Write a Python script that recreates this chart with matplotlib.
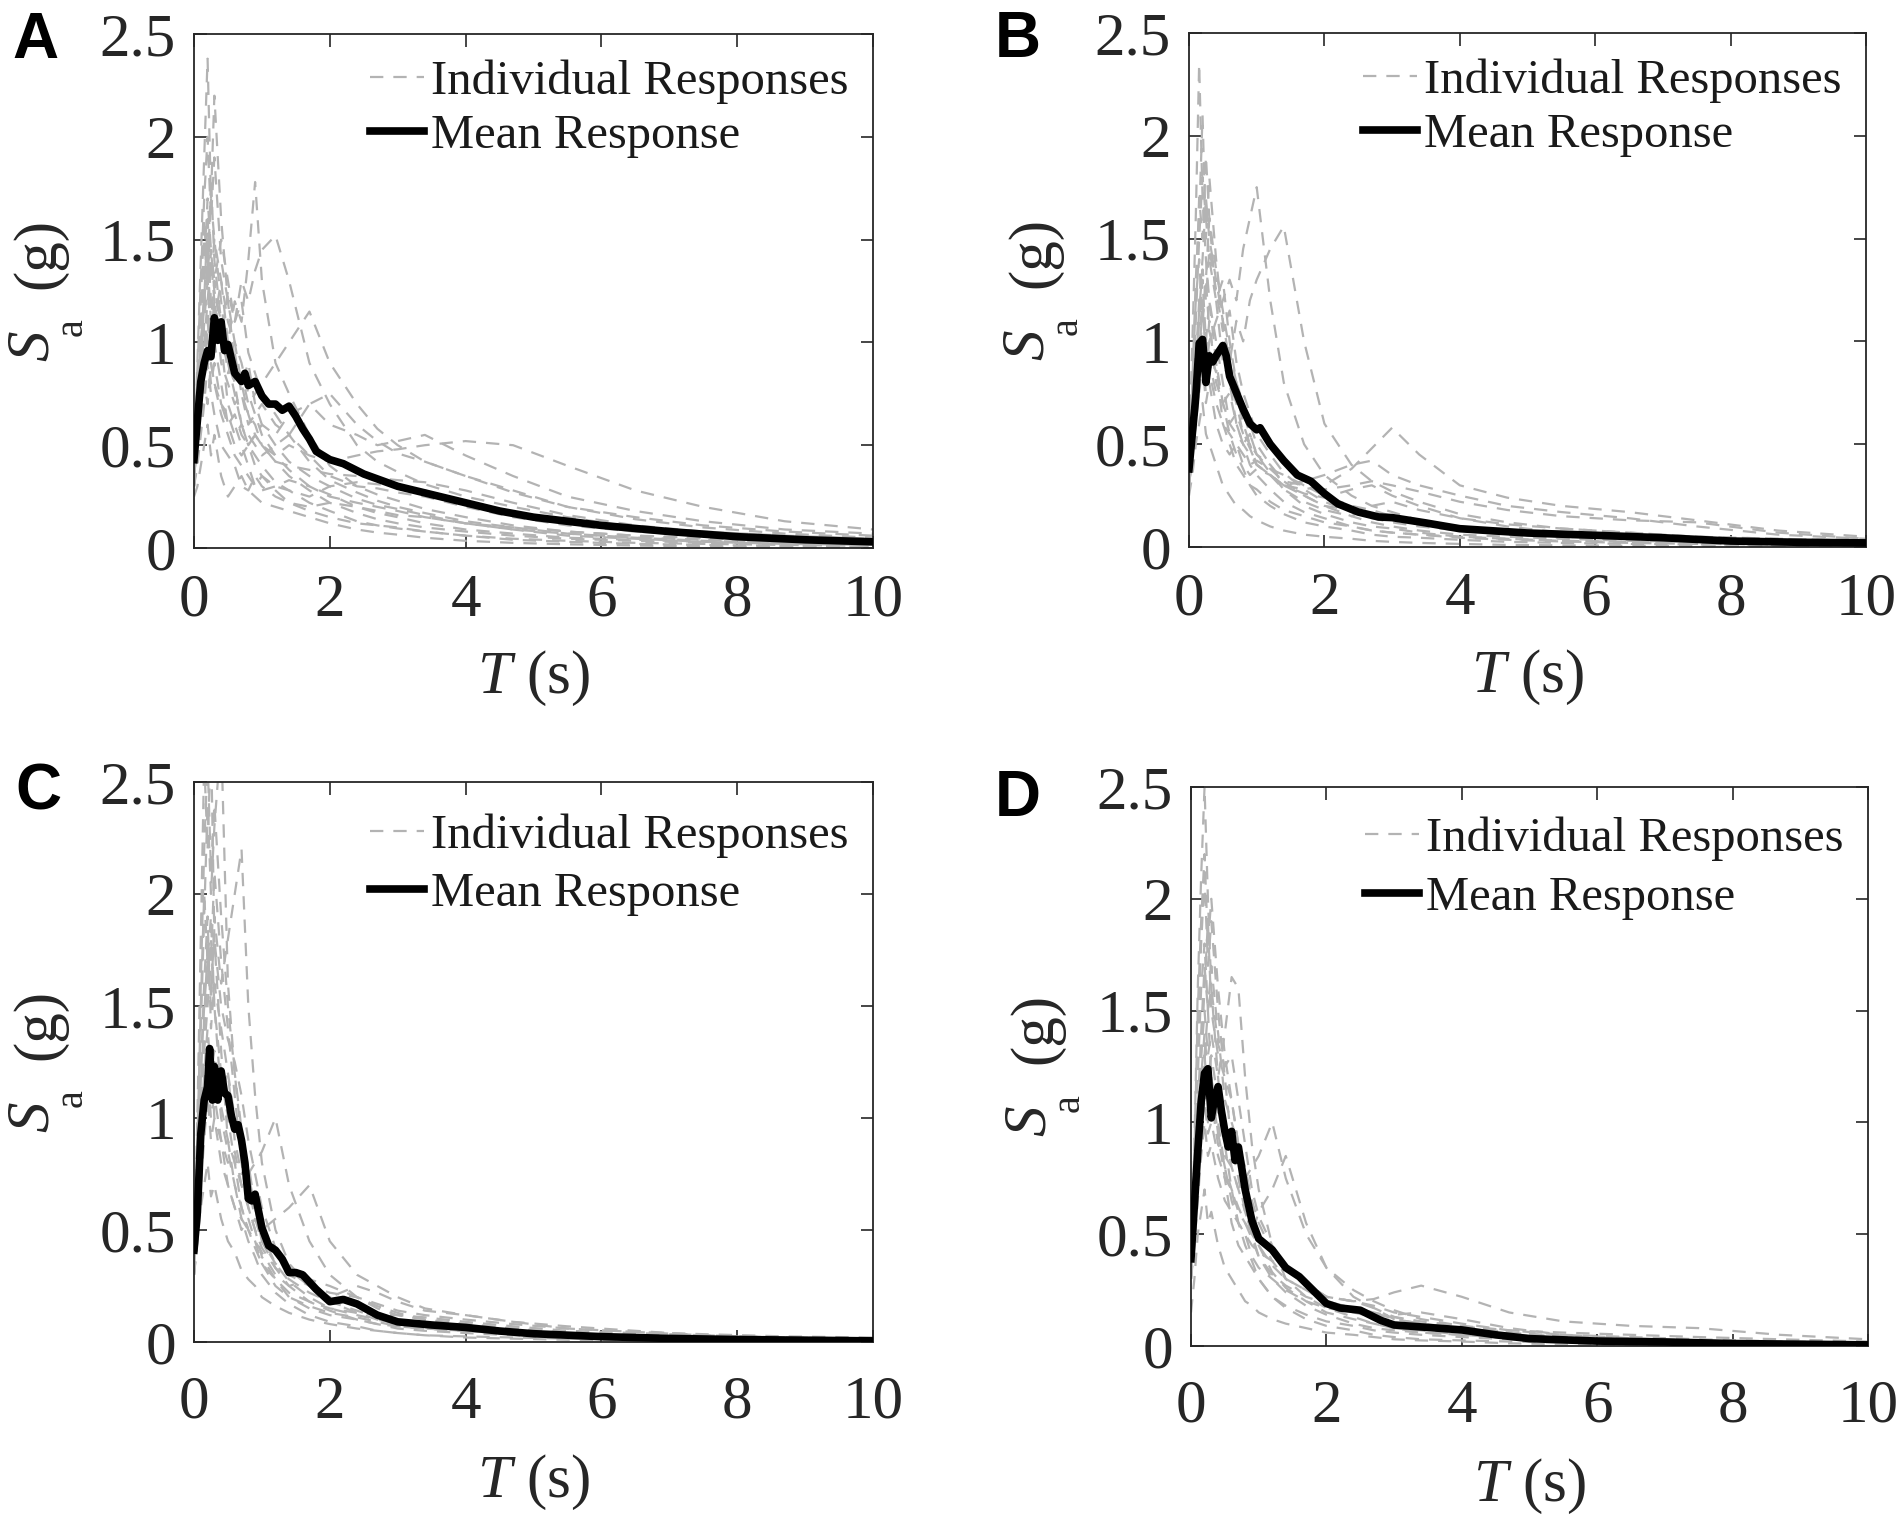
import numpy as np
import matplotlib
matplotlib.use("Agg")
import matplotlib.pyplot as plt
from matplotlib.transforms import ScaledTranslation

plt.rcParams['font.family'] = ['Liberation Serif', 'DejaVu Serif']
plt.rcParams['mathtext.fontset'] = 'custom'
plt.rcParams['mathtext.rm'] = 'Liberation Serif'
plt.rcParams['mathtext.it'] = 'Liberation Serif:italic'

# ---------------- data ----------------
# common period grid for individual responses (s)
T_ind = [0, 0.05, 0.1, 0.15, 0.2, 0.25, 0.3, 0.4, 0.5, 0.6, 0.7, 0.8, 0.9, 1.0,
         1.2, 1.4, 1.7, 2.0, 2.4, 2.7, 3.0, 3.4, 4.0, 4.7, 5.5, 6.5, 7.5, 8.7, 10.0]

ind_A = [
    [0.45, 0.9, 1.4, 1.9, 2.38, 1.7, 1.5, 1.2, 0.9, 0.75, 0.6, 0.5, 0.45, 0.4, 0.32, 0.28, 0.22, 0.18, 0.13, 0.11, 0.095, 0.08, 0.06, 0.045, 0.035, 0.025, 0.02, 0.015, 0.01],
    [0.4, 0.7, 1.1, 1.5, 1.3, 1.7, 2.2, 1.6, 1.2, 0.9, 0.8, 0.65, 0.55, 0.5, 0.42, 0.35, 0.28, 0.22, 0.17, 0.14, 0.12, 0.1, 0.08, 0.06, 0.045, 0.035, 0.025, 0.02, 0.015],
    [0.35, 0.5, 0.8, 1.1, 1.0, 1.2, 1.1, 1.3, 1.0, 1.2, 1.1, 1.4, 1.78, 1.3, 0.9, 0.75, 0.55, 0.4, 0.3, 0.26, 0.23, 0.19, 0.15, 0.11, 0.08, 0.06, 0.045, 0.035, 0.03],
    [0.3, 0.45, 0.7, 0.9, 1.1, 0.95, 1.2, 1.0, 1.25, 1.1, 1.3, 1.2, 1.35, 1.45, 1.52, 1.3, 0.9, 0.7, 0.5, 0.42, 0.37, 0.31, 0.25, 0.2, 0.15, 0.1, 0.08, 0.06, 0.05],
    [0.4, 0.6, 0.9, 1.2, 1.4, 1.1, 1.3, 1.0, 0.9, 0.8, 0.85, 0.7, 0.75, 0.8, 0.9, 1.0, 1.15, 0.9, 0.7, 0.58, 0.5, 0.42, 0.35, 0.27, 0.2, 0.14, 0.1, 0.07, 0.05],
    [0.3, 0.45, 0.6, 0.8, 0.7, 0.9, 0.8, 0.7, 0.6, 0.65, 0.55, 0.5, 0.55, 0.5, 0.45, 0.5, 0.45, 0.42, 0.45, 0.47, 0.48, 0.5, 0.52, 0.5, 0.4, 0.28, 0.2, 0.13, 0.09],
    [0.35, 0.55, 0.8, 1.1, 1.3, 1.0, 1.2, 0.9, 0.8, 0.7, 0.75, 0.6, 0.65, 0.7, 0.6, 0.55, 0.7, 0.6, 0.55, 0.5, 0.52, 0.55, 0.45, 0.35, 0.25, 0.18, 0.13, 0.09, 0.07],
    [0.25, 0.3, 0.4, 0.5, 0.6, 0.45, 0.55, 0.35, 0.25, 0.3, 0.35, 0.28, 0.25, 0.22, 0.2, 0.18, 0.15, 0.12, 0.09, 0.075, 0.065, 0.05, 0.035, 0.025, 0.018, 0.012, 0.008, 0.005, 0.004],
    [0.5, 0.8, 1.2, 1.6, 1.3, 1.8, 1.4, 1.1, 0.95, 0.8, 0.6, 0.55, 0.5, 0.45, 0.5, 0.55, 0.45, 0.35, 0.3, 0.29, 0.27, 0.25, 0.2, 0.15, 0.11, 0.08, 0.06, 0.04, 0.03],
    [0.4, 0.6, 0.9, 1.3, 1.5, 1.2, 1.0, 0.8, 0.6, 0.5, 0.45, 0.5, 0.4, 0.35, 0.3, 0.28, 0.25, 0.3, 0.32, 0.31, 0.3, 0.28, 0.22, 0.17, 0.12, 0.08, 0.06, 0.04, 0.03],
    [0.35, 0.5, 0.7, 0.9, 1.0, 0.8, 0.9, 0.7, 0.65, 0.55, 0.6, 0.5, 0.55, 0.6, 0.55, 0.65, 0.7, 0.75, 0.6, 0.52, 0.46, 0.42, 0.35, 0.28, 0.2, 0.15, 0.11, 0.08, 0.06],
    [0.3, 0.5, 0.75, 1.0, 1.2, 1.4, 1.2, 1.0, 0.7, 0.6, 0.5, 0.4, 0.3, 0.35, 0.28, 0.22, 0.18, 0.15, 0.12, 0.11, 0.1, 0.08, 0.06, 0.04, 0.03, 0.02, 0.015, 0.01, 0.008],
    [0.45, 0.7, 1.0, 1.2, 1.6, 1.3, 1.5, 1.3, 1.1, 1.0, 0.8, 0.9, 0.7, 0.6, 0.5, 0.42, 0.35, 0.3, 0.24, 0.21, 0.19, 0.16, 0.12, 0.09, 0.07, 0.05, 0.04, 0.03, 0.02],
    [0.3, 0.4, 0.55, 0.7, 0.9, 0.75, 0.65, 0.5, 0.45, 0.4, 0.3, 0.28, 0.35, 0.3, 0.25, 0.22, 0.2, 0.22, 0.2, 0.18, 0.16, 0.15, 0.12, 0.1, 0.08, 0.06, 0.05, 0.04, 0.035],
    [0.5, 0.85, 1.3, 1.7, 2.0, 1.6, 1.9, 1.4, 1.2, 1.0, 0.9, 0.75, 0.65, 0.55, 0.45, 0.38, 0.3, 0.26, 0.2, 0.17, 0.15, 0.12, 0.09, 0.07, 0.05, 0.04, 0.03, 0.02, 0.015],
    [0.35, 0.6, 0.95, 1.25, 1.1, 1.45, 1.3, 1.5, 1.3, 1.1, 1.2, 0.95, 0.85, 0.75, 0.65, 0.55, 0.42, 0.33, 0.27, 0.23, 0.2, 0.17, 0.13, 0.1, 0.07, 0.05, 0.035, 0.025, 0.02],
    [0.3, 0.45, 0.65, 0.85, 1.05, 0.9, 0.8, 0.65, 0.55, 0.45, 0.4, 0.35, 0.3, 0.28, 0.3, 0.33, 0.3, 0.25, 0.22, 0.2, 0.18, 0.15, 0.12, 0.09, 0.06, 0.045, 0.03, 0.02, 0.015],
    [0.4, 0.65, 1.0, 1.35, 1.7, 1.45, 1.25, 1.1, 0.85, 0.95, 0.75, 0.65, 0.6, 0.5, 0.42, 0.4, 0.38, 0.36, 0.35, 0.34, 0.33, 0.32, 0.28, 0.22, 0.16, 0.11, 0.08, 0.06, 0.045],
]

ind_B = [
    [0.45, 1.0, 1.6, 2.35, 1.7, 1.4, 1.2, 0.9, 0.7, 0.55, 0.45, 0.38, 0.3, 0.25, 0.2, 0.16, 0.12, 0.1, 0.08, 0.06, 0.05, 0.045, 0.035, 0.025, 0.02, 0.015, 0.012, 0.01, 0.008],
    [0.4, 0.8, 1.3, 1.6, 2.1, 1.5, 1.8, 1.4, 1.1, 0.8, 0.6, 0.5, 0.4, 0.35, 0.28, 0.22, 0.17, 0.14, 0.1, 0.08, 0.07, 0.06, 0.045, 0.035, 0.027, 0.02, 0.015, 0.012, 0.01],
    [0.35, 0.5, 0.7, 0.9, 1.0, 0.85, 1.0, 1.1, 1.2, 1.3, 1.2, 1.45, 1.6, 1.75, 1.2, 0.8, 0.5, 0.35, 0.25, 0.2, 0.17, 0.13, 0.1, 0.07, 0.05, 0.04, 0.03, 0.02, 0.015],
    [0.3, 0.45, 0.6, 0.8, 0.9, 0.8, 0.95, 0.85, 1.0, 0.9, 1.1, 1.0, 1.2, 1.3, 1.45, 1.56, 1.0, 0.6, 0.4, 0.32, 0.27, 0.22, 0.16, 0.12, 0.09, 0.07, 0.05, 0.04, 0.03],
    [0.3, 0.45, 0.6, 0.75, 0.9, 0.7, 0.8, 0.6, 0.5, 0.45, 0.5, 0.4, 0.35, 0.38, 0.35, 0.3, 0.28, 0.3, 0.38, 0.48, 0.58, 0.45, 0.3, 0.24, 0.2, 0.17, 0.13, 0.08, 0.05],
    [0.35, 0.55, 0.8, 1.1, 1.3, 1.0, 1.2, 1.0, 0.8, 0.6, 0.55, 0.5, 0.45, 0.4, 0.35, 0.3, 0.32, 0.35, 0.4, 0.42, 0.35, 0.3, 0.25, 0.2, 0.17, 0.14, 0.1, 0.06, 0.04],
    [0.25, 0.35, 0.5, 0.6, 0.7, 0.55, 0.5, 0.4, 0.3, 0.25, 0.2, 0.18, 0.15, 0.13, 0.1, 0.08, 0.06, 0.05, 0.04, 0.03, 0.025, 0.02, 0.015, 0.01, 0.008, 0.006, 0.005, 0.004, 0.003],
    [0.4, 0.7, 1.1, 1.5, 1.8, 1.6, 1.4, 1.2, 1.3, 1.0, 0.8, 0.7, 0.6, 0.5, 0.4, 0.3, 0.25, 0.2, 0.15, 0.12, 0.1, 0.08, 0.06, 0.05, 0.04, 0.03, 0.025, 0.02, 0.015],
    [0.35, 0.6, 0.9, 1.2, 1.4, 1.7, 1.5, 1.3, 1.1, 0.9, 0.75, 0.6, 0.5, 0.45, 0.38, 0.32, 0.3, 0.25, 0.2, 0.18, 0.15, 0.12, 0.09, 0.07, 0.05, 0.04, 0.03, 0.025, 0.02],
    [0.3, 0.45, 0.65, 0.8, 0.9, 0.75, 0.85, 0.7, 0.6, 0.55, 0.5, 0.45, 0.4, 0.42, 0.38, 0.35, 0.3, 0.28, 0.3, 0.32, 0.3, 0.27, 0.22, 0.18, 0.15, 0.13, 0.12, 0.07, 0.04],
    [0.4, 0.6, 0.85, 1.0, 1.2, 0.9, 1.1, 0.8, 0.7, 0.75, 0.6, 0.5, 0.55, 0.45, 0.4, 0.32, 0.25, 0.2, 0.18, 0.16, 0.14, 0.12, 0.1, 0.08, 0.06, 0.05, 0.04, 0.03, 0.02],
    [0.3, 0.5, 0.7, 0.95, 1.1, 1.3, 1.05, 0.9, 0.6, 0.5, 0.4, 0.35, 0.3, 0.28, 0.22, 0.18, 0.15, 0.12, 0.1, 0.08, 0.07, 0.06, 0.05, 0.04, 0.03, 0.025, 0.02, 0.015, 0.01],
    [0.45, 0.8, 1.2, 1.4, 1.1, 1.3, 1.6, 1.2, 0.9, 0.8, 0.7, 0.55, 0.5, 0.4, 0.35, 0.28, 0.22, 0.18, 0.15, 0.2, 0.22, 0.18, 0.14, 0.11, 0.09, 0.07, 0.05, 0.04, 0.03],
    [0.4, 0.75, 1.2, 1.7, 1.5, 1.9, 1.6, 1.35, 1.15, 0.95, 0.8, 0.65, 0.55, 0.45, 0.36, 0.28, 0.2, 0.16, 0.12, 0.1, 0.09, 0.07, 0.05, 0.04, 0.03, 0.025, 0.02, 0.015, 0.01],
    [0.3, 0.55, 0.85, 1.15, 1.35, 1.2, 1.45, 1.25, 1.05, 1.15, 0.9, 0.75, 0.65, 0.55, 0.45, 0.36, 0.28, 0.22, 0.17, 0.14, 0.12, 0.1, 0.08, 0.06, 0.045, 0.035, 0.03, 0.025, 0.02],
    [0.35, 0.5, 0.7, 0.95, 1.15, 1.0, 0.9, 0.75, 0.7, 0.6, 0.65, 0.55, 0.48, 0.4, 0.35, 0.3, 0.26, 0.24, 0.28, 0.3, 0.25, 0.2, 0.14, 0.1, 0.07, 0.05, 0.04, 0.03, 0.02],
]

ind_C = [
    [0.4, 1.0, 1.8, 2.6, 2.2, 2.7, 1.8, 1.3, 0.9, 0.7, 0.55, 0.45, 0.38, 0.3, 0.22, 0.17, 0.12, 0.09, 0.07, 0.05, 0.04, 0.03, 0.025, 0.02, 0.015, 0.01, 0.008, 0.006, 0.004],
    [0.35, 0.8, 1.4, 1.9, 2.4, 2.0, 2.3, 2.7, 1.6, 1.2, 0.9, 0.7, 0.55, 0.45, 0.33, 0.25, 0.18, 0.14, 0.1, 0.08, 0.06, 0.05, 0.04, 0.03, 0.02, 0.015, 0.01, 0.008, 0.006],
    [0.4, 0.7, 1.2, 1.5, 1.7, 1.5, 1.9, 1.6, 1.8, 2.0, 2.2, 1.5, 1.1, 0.8, 0.5, 0.35, 0.25, 0.18, 0.13, 0.1, 0.08, 0.06, 0.05, 0.04, 0.03, 0.02, 0.015, 0.01, 0.008],
    [0.3, 0.5, 0.8, 1.0, 1.2, 1.0, 1.1, 0.9, 0.8, 0.85, 0.7, 0.75, 0.8, 0.85, 1.0, 0.7, 0.45, 0.3, 0.2, 0.15, 0.12, 0.1, 0.08, 0.06, 0.04, 0.03, 0.02, 0.015, 0.01],
    [0.3, 0.45, 0.7, 0.9, 1.1, 0.9, 1.0, 0.8, 0.7, 0.6, 0.55, 0.5, 0.55, 0.5, 0.55, 0.6, 0.7, 0.45, 0.3, 0.25, 0.2, 0.15, 0.12, 0.09, 0.07, 0.05, 0.03, 0.02, 0.015],
    [0.45, 0.9, 1.5, 2.0, 1.7, 1.9, 1.5, 1.2, 1.0, 0.8, 0.6, 0.5, 0.42, 0.35, 0.28, 0.22, 0.18, 0.15, 0.13, 0.12, 0.12, 0.11, 0.09, 0.07, 0.05, 0.04, 0.03, 0.02, 0.015],
    [0.3, 0.45, 0.6, 0.7, 0.8, 0.65, 0.7, 0.55, 0.45, 0.4, 0.32, 0.28, 0.25, 0.2, 0.16, 0.13, 0.1, 0.08, 0.06, 0.05, 0.04, 0.03, 0.02, 0.015, 0.01, 0.008, 0.006, 0.005, 0.004],
    [0.4, 0.8, 1.2, 1.6, 1.9, 1.4, 1.6, 1.4, 1.2, 1.0, 0.9, 0.7, 0.6, 0.45, 0.35, 0.3, 0.25, 0.22, 0.2, 0.17, 0.14, 0.12, 0.1, 0.08, 0.06, 0.045, 0.035, 0.025, 0.02],
    [0.35, 0.7, 1.1, 1.4, 1.6, 1.8, 1.5, 1.1, 1.2, 0.9, 0.75, 0.8, 0.6, 0.5, 0.4, 0.32, 0.25, 0.2, 0.25, 0.22, 0.18, 0.14, 0.12, 0.09, 0.06, 0.045, 0.03, 0.02, 0.015],
    [0.4, 0.6, 0.9, 1.2, 1.4, 1.2, 1.3, 1.0, 0.85, 0.7, 0.6, 0.5, 0.45, 0.4, 0.3, 0.25, 0.28, 0.25, 0.2, 0.16, 0.13, 0.1, 0.08, 0.06, 0.04, 0.03, 0.02, 0.015, 0.01],
    [0.35, 0.6, 1.0, 1.3, 1.5, 1.7, 2.1, 1.7, 1.4, 1.1, 0.8, 0.6, 0.5, 0.38, 0.28, 0.2, 0.15, 0.12, 0.1, 0.08, 0.07, 0.06, 0.05, 0.04, 0.03, 0.02, 0.015, 0.01, 0.008],
    [0.3, 0.5, 0.75, 0.95, 1.1, 1.3, 1.0, 0.9, 0.7, 0.6, 0.5, 0.55, 0.45, 0.35, 0.25, 0.2, 0.16, 0.13, 0.11, 0.09, 0.07, 0.06, 0.05, 0.035, 0.025, 0.018, 0.012, 0.008, 0.005],
    [0.4, 0.9, 1.6, 2.2, 2.6, 2.1, 2.4, 1.9, 1.5, 1.2, 0.95, 0.75, 0.6, 0.48, 0.35, 0.27, 0.2, 0.15, 0.12, 0.1, 0.08, 0.065, 0.05, 0.035, 0.025, 0.018, 0.012, 0.008, 0.005],
    [0.35, 0.65, 1.05, 1.45, 1.75, 1.55, 1.8, 1.5, 1.35, 1.25, 1.1, 0.9, 0.75, 0.6, 0.42, 0.33, 0.26, 0.2, 0.16, 0.13, 0.1, 0.08, 0.06, 0.045, 0.03, 0.02, 0.015, 0.01, 0.007],
    [0.3, 0.55, 0.85, 1.15, 1.3, 1.15, 1.25, 1.05, 0.9, 0.8, 0.7, 0.6, 0.5, 0.42, 0.33, 0.28, 0.22, 0.18, 0.14, 0.11, 0.09, 0.07, 0.055, 0.04, 0.03, 0.02, 0.015, 0.01, 0.008],
]

ind_D = [
    [0.35, 0.9, 1.6, 2.1, 2.5, 2.0, 1.6, 1.2, 0.9, 0.7, 0.55, 0.45, 0.38, 0.3, 0.22, 0.17, 0.12, 0.09, 0.07, 0.05, 0.04, 0.03, 0.025, 0.02, 0.015, 0.01, 0.008, 0.006, 0.004],
    [0.4, 0.8, 1.4, 1.8, 2.1, 1.7, 1.9, 1.5, 1.2, 0.9, 0.75, 0.6, 0.5, 0.4, 0.3, 0.24, 0.18, 0.14, 0.1, 0.08, 0.07, 0.06, 0.05, 0.04, 0.03, 0.02, 0.015, 0.01, 0.008],
    [0.35, 0.6, 1.0, 1.3, 1.5, 1.3, 1.4, 1.2, 1.4, 1.65, 1.6, 1.2, 0.9, 0.7, 0.45, 0.3, 0.22, 0.17, 0.13, 0.1, 0.08, 0.06, 0.05, 0.035, 0.025, 0.02, 0.015, 0.01, 0.007],
    [0.3, 0.5, 0.8, 1.0, 1.2, 1.0, 1.1, 0.9, 0.85, 0.8, 0.7, 0.75, 0.8, 0.85, 1.0, 0.75, 0.5, 0.35, 0.22, 0.17, 0.13, 0.1, 0.08, 0.06, 0.045, 0.03, 0.02, 0.015, 0.01],
    [0.3, 0.45, 0.65, 0.85, 1.0, 0.85, 0.9, 0.75, 0.65, 0.6, 0.55, 0.5, 0.45, 0.42, 0.38, 0.35, 0.28, 0.22, 0.2, 0.21, 0.24, 0.27, 0.22, 0.15, 0.11, 0.09, 0.08, 0.05, 0.03],
    [0.35, 0.55, 0.8, 1.1, 1.3, 1.1, 1.2, 1.0, 0.8, 0.65, 0.55, 0.5, 0.4, 0.35, 0.3, 0.25, 0.2, 0.17, 0.15, 0.13, 0.14, 0.15, 0.12, 0.08, 0.05, 0.04, 0.03, 0.02, 0.015],
    [0.15, 0.3, 0.5, 0.6, 0.7, 0.55, 0.6, 0.45, 0.35, 0.3, 0.25, 0.2, 0.18, 0.15, 0.12, 0.1, 0.08, 0.06, 0.05, 0.04, 0.03, 0.025, 0.02, 0.012, 0.008, 0.006, 0.004, 0.003, 0.002],
    [0.4, 0.7, 1.2, 1.6, 1.8, 1.5, 1.7, 1.4, 1.1, 1.0, 0.9, 0.7, 0.6, 0.5, 0.38, 0.3, 0.25, 0.2, 0.16, 0.13, 0.1, 0.08, 0.06, 0.045, 0.03, 0.02, 0.015, 0.01, 0.008],
    [0.35, 0.6, 1.0, 1.3, 1.6, 1.9, 1.5, 1.3, 1.2, 1.1, 0.9, 0.8, 0.65, 0.55, 0.42, 0.35, 0.28, 0.22, 0.2, 0.17, 0.12, 0.1, 0.08, 0.05, 0.035, 0.025, 0.018, 0.012, 0.008],
    [0.4, 0.65, 0.95, 1.2, 1.4, 1.2, 1.3, 1.1, 0.95, 0.8, 0.7, 0.6, 0.5, 0.45, 0.36, 0.3, 0.25, 0.2, 0.17, 0.15, 0.12, 0.1, 0.07, 0.05, 0.035, 0.025, 0.02, 0.015, 0.01],
    [0.3, 0.5, 0.75, 0.95, 1.1, 0.95, 1.0, 0.85, 0.75, 0.7, 0.6, 0.55, 0.5, 0.6, 0.7, 0.85, 0.55, 0.35, 0.25, 0.2, 0.16, 0.12, 0.09, 0.06, 0.04, 0.03, 0.02, 0.015, 0.01],
    [0.35, 0.6, 0.9, 1.1, 1.3, 1.5, 1.2, 0.95, 0.75, 0.55, 0.45, 0.4, 0.35, 0.3, 0.22, 0.18, 0.14, 0.11, 0.09, 0.07, 0.06, 0.05, 0.04, 0.03, 0.02, 0.015, 0.01, 0.008, 0.005],
    [0.4, 0.85, 1.5, 1.9, 2.2, 1.8, 2.0, 1.6, 1.3, 1.1, 0.9, 0.7, 0.55, 0.45, 0.33, 0.26, 0.2, 0.15, 0.12, 0.1, 0.08, 0.07, 0.05, 0.035, 0.025, 0.018, 0.012, 0.008, 0.005],
    [0.35, 0.65, 1.05, 1.4, 1.7, 1.5, 1.6, 1.35, 1.25, 1.3, 1.1, 0.9, 0.7, 0.58, 0.45, 0.35, 0.28, 0.22, 0.2, 0.18, 0.15, 0.13, 0.1, 0.07, 0.05, 0.035, 0.025, 0.018, 0.012],
    [0.3, 0.5, 0.8, 1.05, 1.25, 1.1, 1.15, 0.95, 0.8, 0.7, 0.62, 0.55, 0.48, 0.4, 0.32, 0.27, 0.22, 0.19, 0.17, 0.15, 0.13, 0.11, 0.09, 0.07, 0.06, 0.05, 0.04, 0.03, 0.02],
]

# mean responses
T_mean_A = [0, 0.1, 0.15, 0.2, 0.25, 0.3, 0.35, 0.4, 0.45, 0.5, 0.55, 0.6, 0.7, 0.75, 0.8, 0.9, 1.0, 1.1, 1.2, 1.3, 1.4, 1.5, 1.6, 1.7, 1.8, 1.9, 2.0, 2.2, 2.5, 3.0, 3.5, 4.0, 4.5, 5.0, 5.5, 6.0, 7.0, 8.0, 9.0, 10.0]
Sa_mean_A = [0.43, 0.81, 0.90, 0.96, 0.93, 1.12, 1.01, 1.10, 0.96, 0.99, 0.92, 0.85, 0.81, 0.85, 0.79, 0.81, 0.74, 0.70, 0.70, 0.67, 0.69, 0.64, 0.58, 0.53, 0.47, 0.45, 0.43, 0.41, 0.36, 0.30, 0.26, 0.22, 0.18, 0.15, 0.13, 0.11, 0.08, 0.055, 0.04, 0.03]

T_mean_B = [0, 0.1, 0.15, 0.2, 0.25, 0.3, 0.35, 0.4, 0.5, 0.55, 0.6, 0.7, 0.8, 0.9, 1.0, 1.05, 1.2, 1.4, 1.6, 1.8, 2.0, 2.2, 2.5, 2.8, 3.0, 3.5, 4.0, 5.0, 6.0, 7.0, 8.0, 9.0, 10.0]
Sa_mean_B = [0.38, 0.73, 0.99, 1.01, 0.80, 0.93, 0.90, 0.93, 0.98, 0.93, 0.83, 0.75, 0.67, 0.60, 0.57, 0.58, 0.50, 0.42, 0.35, 0.32, 0.26, 0.21, 0.17, 0.146, 0.143, 0.117, 0.089, 0.068, 0.057, 0.045, 0.029, 0.023, 0.02]

T_mean_C = [0, 0.05, 0.1, 0.15, 0.2, 0.23, 0.27, 0.3, 0.35, 0.4, 0.45, 0.5, 0.55, 0.6, 0.65, 0.7, 0.75, 0.8, 0.85, 0.9, 1.0, 1.1, 1.2, 1.3, 1.4, 1.5, 1.6, 1.8, 2.0, 2.2, 2.4, 2.7, 3.0, 3.5, 4.0, 4.5, 5.0, 6.0, 7.0, 8.0, 10.0]
Sa_mean_C = [0.41, 0.58, 0.93, 1.08, 1.14, 1.31, 1.08, 1.23, 1.08, 1.21, 1.11, 1.10, 1.01, 0.95, 0.97, 0.90, 0.80, 0.64, 0.63, 0.66, 0.51, 0.43, 0.41, 0.37, 0.31, 0.31, 0.30, 0.235, 0.18, 0.19, 0.17, 0.12, 0.09, 0.076, 0.065, 0.049, 0.037, 0.024, 0.016, 0.011, 0.005]

T_mean_D = [0, 0.1, 0.15, 0.2, 0.25, 0.3, 0.35, 0.4, 0.45, 0.5, 0.55, 0.6, 0.65, 0.7, 0.8, 0.9, 1.0, 1.1, 1.2, 1.4, 1.6, 1.8, 2.0, 2.2, 2.5, 2.8, 3.0, 3.5, 4.0, 4.5, 5.0, 6.0, 7.0, 8.0, 10.0]
Sa_mean_D = [0.39, 0.87, 1.09, 1.22, 1.24, 1.02, 1.11, 1.16, 1.05, 0.96, 0.89, 0.96, 0.83, 0.89, 0.70, 0.56, 0.48, 0.455, 0.43, 0.35, 0.31, 0.25, 0.19, 0.17, 0.16, 0.115, 0.094, 0.083, 0.072, 0.05, 0.033, 0.022, 0.018, 0.011, 0.005]

panel_letters = ['A', 'B', 'C', 'D']
x_ticks = [0, 2, 4, 6, 8, 10]
y_ticks = [0, 0.5, 1, 1.5, 2, 2.5]
y_tick_labels = ['0', '0.5', '1', '1.5', '2', '2.5']
legend_labels = ['Individual Responses', 'Mean Response']

# ---------------- figure ----------------
W, H = 1901, 1526
fig = plt.figure(figsize=(W / 100, H / 100), dpi=100)

# axes boxes in pixels: left, top, right, bottom
boxes = [(194, 34, 873, 548), (1189, 33, 1866, 547),
         (194, 782, 873, 1342), (1191, 787, 1868, 1346)]
letter_px = [(12, 11), (995, 10), (15, 763), (995, 769)]
xlabel_off = [145, 145, 155, 155]
xtick_pad = [18, 18, 24, 24]
leg_spacing = [0.2, 0.2, 0.3, 0.3]
leg_top = [0.998, 0.998, 0.988, 0.99]

panels = [
    (ind_A, T_mean_A, Sa_mean_A),
    (ind_B, T_mean_B, Sa_mean_B),
    (ind_C, T_mean_C, Sa_mean_C),
    (ind_D, T_mean_D, Sa_mean_D),
]

ink = '#262626'
gray = '#b3b3b3'
for k, (ind, tm, sm) in enumerate(panels):
    l, t, r, b = boxes[k]
    ax = fig.add_axes([l / W, 1 - b / H, (r - l) / W, (b - t) / H])
    for j, curve in enumerate(ind):
        ax.plot(T_ind, curve, color=gray, lw=1.6, dashes=(6, 4.5),
                label=legend_labels[0] if j == 0 else None, zorder=2)
    ax.plot(tm, sm, color='black', lw=5.5, label=legend_labels[1], zorder=3,
            solid_joinstyle='round')
    ax.set_xlim(0, 10)
    ax.set_ylim(0, 2.5)
    ax.set_xticks(x_ticks)
    ax.set_yticks(y_ticks)
    ax.set_yticklabels(y_tick_labels)
    ax.tick_params(direction='in', length=9, width=1.2, top=True, right=True,
                   labelsize=44, colors=ink, labelcolor=ink)
    ax.tick_params(axis='x', pad=xtick_pad[k])
    ax.tick_params(axis='y', pad=13)
    for s in ax.spines.values():
        s.set_linewidth(1.3)
        s.set_color(ink)

    # x label: baseline a fixed distance below the axes
    ax.text(0.5, 0, r'$T$ (s)', fontsize=44, color=ink, ha='center', va='baseline',
            transform=ax.transAxes + ScaledTranslation(0, -xlabel_off[k] / 100, fig.dpi_scale_trans))

    # y label: italic S, low subscript a, then (g), rotated
    def ylab(s, dx, dy, size, style='normal'):
        ax.text(0, 0.5, s, fontsize=size, color=ink, rotation=90, rotation_mode='anchor',
                ha='left', va='baseline', fontstyle=style,
                transform=ax.transAxes + ScaledTranslation(dx / 100, -dy / 100, fig.dpi_scale_trans))
    ylab('S', -146, 70, 44, 'italic')
    ylab('a', -112, 45, 29)
    ylab('(g)', -140, -2, 44)

    leg = ax.legend(loc='upper right', bbox_to_anchor=(1.0, leg_top[k]), frameon=False,
                    fontsize=35, handlelength=1.1, handletextpad=0.15,
                    labelspacing=leg_spacing[k], borderaxespad=0.3, borderpad=0.2)
    for txt in leg.get_texts():
        txt.set_color('#1a1a1a')
    fig.text(letter_px[k][0] / W, 1 - letter_px[k][1] / H, panel_letters[k],
             fontsize=46, fontweight='bold', family='Liberation Sans',
             ha='left', va='top')

fig.savefig('out.png', dpi=100)
